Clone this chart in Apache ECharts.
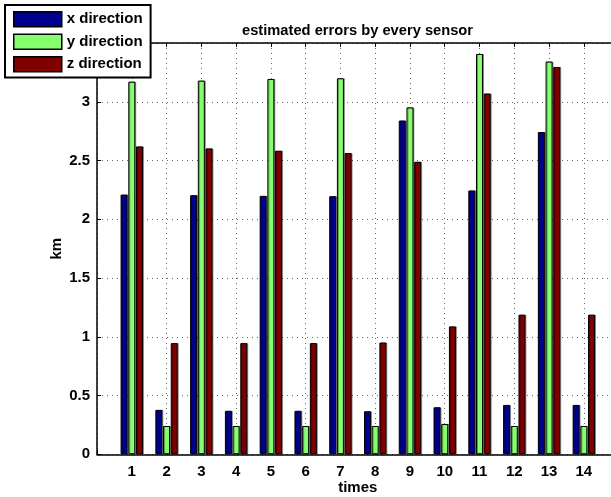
<!DOCTYPE html>
<html>
<head>
<meta charset="utf-8">
<script src="https://cdn.jsdelivr.net/npm/echarts@6/dist/echarts.min.js"></script>
<style>html,body{margin:0;padding:0;background:#fff}#c{width:611px;height:497px}</style>
</head>
<body>
<div id="c"></div>
<script>
var categories = ['1','2','3','4','5','6','7','8','9','10','11','12','13','14'];
var xDirection = [2.21,0.378,2.205,0.37,2.199,0.37,2.196,0.366,2.84,0.40,2.245,0.42,2.742,0.42];
var yDirection = [3.171,0.241,3.18,0.241,3.194,0.241,3.20,0.241,2.952,0.258,3.407,0.241,3.342,0.241];
var zDirection = [2.62,0.946,2.603,0.946,2.583,0.946,2.563,0.951,2.489,1.088,3.07,1.188,3.296,1.188];
var yTicks = [0,0.5,1,1.5,2,2.5,3,3.5];

var FONT = "'Liberation Sans', Arial, sans-serif";
var axisCats = [''].concat(categories).concat(['']);
function pad(arr){ return [null].concat(arr).concat([null]); }

var barCommon = {
  type: 'bar',
  barWidth: 7,
  barGap: '10%',
  itemStyle: { borderColor: '#000', borderWidth: 1, shadowColor: 'rgba(0,0,0,0.35)', shadowOffsetX: 1, shadowOffsetY: 0, shadowBlur: 0 }
};
function mk(name, color, vals){
  var s = JSON.parse(JSON.stringify(barCommon));
  s.name = name; s.data = pad(vals); s.itemStyle.color = color;
  return s;
}

var chart = echarts.init(document.getElementById('c'), null, {renderer:'canvas'});
chart.setOption({
  animation: false,
  backgroundColor: '#fff',
  title: {
    text: 'estimated errors by every sensor',
    left: 237, top: 18,
    textStyle: { fontFamily: FONT, fontSize: 14.7, fontWeight: 'bold', color: '#000' }
  },
  legend: {
    orient: 'vertical', left: 5, top: 5,
    padding: [6, 8, 5, 8],
    itemWidth: 48, itemHeight: 15, itemGap: 6,
    icon: 'rect',
    backgroundColor: '#fff', borderColor: '#000', borderWidth: 2,
    textStyle: { fontFamily: FONT, fontSize: 15, fontWeight: 'bold', color: '#000' },
    itemStyle: { borderColor: '#000', borderWidth: 1.5 },
    data: ['x direction','y direction','z direction']
  },
  grid: { left: 97, width: 521.6, top: 43, bottom: 42.7, containLabel: false, outerBoundsMode: 'none' },
  xAxis: [{
    type: 'category', data: axisCats, boundaryGap: false, position: 'bottom',
    axisLine: { lineStyle: { color: '#000', width: 1.5 } },
    axisTick: { inside: true, length: 4, lineStyle: { color: '#000' } },
    axisLabel: { fontFamily: FONT, fontSize: 15, fontWeight: 'bold', color: '#000', margin: 10, interval: 0 },
    splitLine: { show: true, lineStyle: { color: '#666', type: [1, 4], width: 1 } },
    name: 'times', nameLocation: 'middle', nameGap: 26, nameMoveOverlap: false,
    nameTextStyle: { fontFamily: FONT, fontSize: 15, fontWeight: 'bold', color: '#000' }
  }, {
    type: 'category', data: axisCats, boundaryGap: false, position: 'top',
    axisLine: { lineStyle: { color: '#000', width: 1.5 } },
    axisTick: { inside: true, length: 4, lineStyle: { color: '#000' } },
    axisLabel: { show: false }, splitLine: { show: false }
  }],
  yAxis: [{
    type: 'value', min: 0, max: 3.5, interval: 0.5,
    axisLine: { show: true, lineStyle: { color: '#000', width: 1.5 } },
    axisTick: { show: true, inside: true, length: 4, lineStyle: { color: '#000' } },
    axisLabel: { fontFamily: FONT, fontSize: 15, fontWeight: 'bold', color: '#000', margin: 7,
      formatter: function(v){ return v === 3.5 ? '' : String(v); } },
    splitLine: { show: true, lineStyle: { color: '#666', type: [1, 4], width: 1 } },
    name: 'km', nameLocation: 'middle', nameGap: 33, nameRotate: 90, nameMoveOverlap: false,
    nameTextStyle: { fontFamily: FONT, fontSize: 15, fontWeight: 'bold', color: '#000' }
  }],
  series: [
    mk('x direction', '#00008f', xDirection),
    mk('y direction', '#86ff6e', yDirection),
    mk('z direction', '#800000', zDirection)
  ]
});
</script>
</body>
</html>
